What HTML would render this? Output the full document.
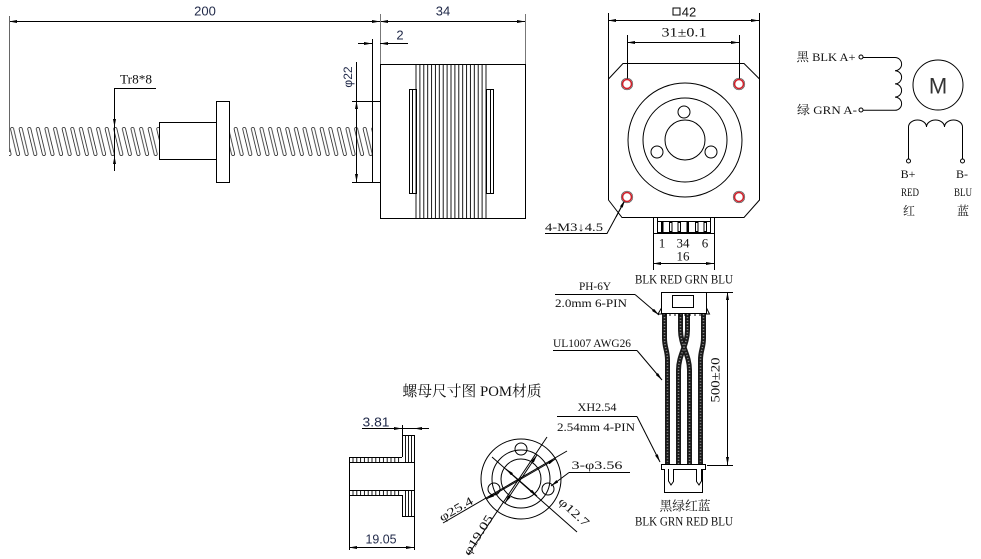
<!DOCTYPE html>
<html><head><meta charset="utf-8"><style>
html,body{margin:0;padding:0;background:#fff;}
svg{display:block;}
text{font-family:"Liberation Serif","Noto Serif CJK SC",serif;fill:#111;}
.s{font-family:"Liberation Sans","Noto Sans CJK SC",sans-serif;}
.n{fill:#1f2848;}
</style></head><body>
<svg width="981" height="559" viewBox="0 0 981 559" xmlns="http://www.w3.org/2000/svg">
<defs>
<marker id="a" viewBox="0 0 8 3" refX="8" refY="1.5" markerWidth="8" markerHeight="3" markerUnits="userSpaceOnUse" orient="auto-start-reverse"><path d="M0,0 L8,1.5 L0,3z" fill="#000"/></marker>
<pattern id="thr" patternUnits="userSpaceOnUse" x="9" y="127" width="8.6" height="29">
<g fill="none" stroke="#222" stroke-width="0.8">
<path d="M1.5,2 A1.6,1.6 0 0 1 4.7,2 L10.7,27 A1.6,1.6 0 0 1 7.5,27 Z"/>
<path d="M1.5,2 A1.6,1.6 0 0 1 4.7,2 L10.7,27 A1.6,1.6 0 0 1 7.5,27 Z" transform="translate(-8.6,0)"/>
<path d="M1.5,2 A1.6,1.6 0 0 1 4.7,2 L10.7,27 A1.6,1.6 0 0 1 7.5,27 Z" transform="translate(8.6,0)"/>
</g>
</pattern>
</defs>
<rect width="981" height="559" fill="#fff"/>

<!-- ===== Side view: screw + motor ===== -->
<rect x="9" y="127" width="150" height="29" fill="url(#thr)"/>
<rect x="229" y="127" width="143" height="29" fill="url(#thr)"/>
<g stroke="#000" stroke-width="1" fill="none">
<rect x="159.5" y="122.5" width="57" height="37" fill="#fff"/>
<rect x="216.5" y="101.5" width="13" height="81" fill="#fff"/>
<rect x="372.5" y="101.5" width="8" height="81" fill="#fff"/>
<rect x="380.5" y="64.5" width="145" height="154"/>
<path d="M416,64V218 M419.9,64V218 M423.8,64V218 M427.7,64V218 M431.6,64V218 M435.4,64V218 M439.3,64V218 M443.2,64V218 M447.1,64V218 M451,64V218 M454.9,64V218 M458.8,64V218 M462.7,64V218 M466.6,64V218 M470.4,64V218 M474.3,64V218 M478.2,64V218 M482.1,64V218 M486,64V218" stroke-width="0.9"/>
<rect x="409.5" y="89.5" width="7" height="104"/>
<line x1="412.5" y1="89" x2="412.5" y2="193"/>
<rect x="486.5" y="89.5" width="7" height="104"/>
<line x1="490.5" y1="89" x2="490.5" y2="193"/>

<!-- dims -->
<line x1="9" y1="21.5" x2="380" y2="21.5" marker-start="url(#a)" marker-end="url(#a)"/>
<line x1="380" y1="21.5" x2="525" y2="21.5" marker-start="url(#a)" marker-end="url(#a)"/>
<line x1="9.5" y1="16" x2="9.5" y2="152" stroke="#666"/>
<line x1="380.5" y1="14" x2="380.5" y2="64" stroke="#777"/>
<line x1="525.5" y1="14" x2="525.5" y2="64" stroke="#777"/>
<line x1="358" y1="43.5" x2="372" y2="43.5" marker-end="url(#a)"/>
<line x1="395" y1="43.5" x2="380" y2="43.5" marker-end="url(#a)"/>
<line x1="380" y1="43.5" x2="408" y2="43.5"/>
<line x1="372.5" y1="39" x2="372.5" y2="101"/>
<line x1="356.5" y1="62" x2="356.5" y2="182"/>
<line x1="356.5" y1="120" x2="356.5" y2="101" marker-end="url(#a)"/>
<line x1="356.5" y1="160" x2="356.5" y2="182" marker-end="url(#a)"/>
<line x1="352" y1="101.5" x2="372" y2="101.5"/>
<line x1="352" y1="182.5" x2="372" y2="182.5"/>
<polyline points="156,88.5 114.5,88.5 114.5,171"/>
<line x1="114.5" y1="110" x2="114.5" y2="127" marker-end="url(#a)"/>
<line x1="114.5" y1="171" x2="114.5" y2="156" marker-end="url(#a)"/>
</g>
<text class="s n" x="205" y="11" font-size="13" text-anchor="middle" dominant-baseline="central">200</text>
<text class="s n" x="443" y="11" font-size="13" text-anchor="middle" dominant-baseline="central">34</text>
<text class="s n" x="400" y="35" font-size="13" text-anchor="middle" dominant-baseline="central">2</text>
<text class="s n" x="0" y="0" font-size="12" text-anchor="middle" dominant-baseline="central" transform="translate(348,77) rotate(-90)">φ22</text>
<text x="136" y="79" font-size="13" text-anchor="middle" dominant-baseline="central" textLength="32" lengthAdjust="spacingAndGlyphs">Tr8*8</text>

<!-- ===== Front view ===== -->
<g stroke="#000" stroke-width="1" fill="none">
<polygon points="623,63.5 744,63.5 759.5,79 759.5,200 744,217.5 622,217.5 608.5,200 608.5,79"/>
<circle cx="685" cy="140" r="57"/>
<circle cx="685" cy="140" r="42"/>
<circle cx="685" cy="140" r="20"/>
<circle cx="684" cy="112" r="6"/>
<circle cx="657" cy="152" r="6"/>
<circle cx="711" cy="152" r="6"/>
<line x1="608" y1="20.5" x2="759" y2="20.5" marker-start="url(#a)" marker-end="url(#a)"/>
<line x1="608.5" y1="13" x2="608.5" y2="79"/>
<line x1="759.5" y1="13" x2="759.5" y2="79"/>
<line x1="627" y1="42.5" x2="739" y2="42.5" marker-start="url(#a)" marker-end="url(#a)"/>
<line x1="627.5" y1="35" x2="627.5" y2="80"/>
<line x1="739.5" y1="35" x2="739.5" y2="80"/>
<rect x="673" y="8" width="7" height="7"/>
<!-- connector -->
<rect x="653.5" y="217.5" width="61" height="16"/>
<rect x="657.5" y="217.5" width="53" height="15"/>
<line x1="657" y1="221.5" x2="710" y2="221.5"/>
<rect x="669.5" y="222.5" width="2.5" height="9"/>
<rect x="678" y="222.5" width="2.5" height="9"/>
<rect x="695.5" y="222.5" width="2.5" height="9"/>
<rect x="704" y="222.5" width="2.5" height="9"/>
<line x1="653" y1="263.5" x2="714" y2="263.5" marker-start="url(#a)" marker-end="url(#a)"/>
<line x1="653.5" y1="233" x2="653.5" y2="270"/>
<line x1="714.5" y1="233" x2="714.5" y2="270"/>
<polyline points="545,233.5 607,233.5 624,202"/>
</g>
<line x1="616" y1="217" x2="625" y2="200" stroke="#000" stroke-width="1" marker-end="url(#a)"/>
<rect x="661" y="222" width="2.5" height="10" fill="#000"/>
<rect x="686.5" y="222" width="2.5" height="10" fill="#000"/>
<g fill="#fff" stroke="#d0202a" stroke-width="1.6">
<circle cx="627" cy="84" r="4.5"/><circle cx="739" cy="84" r="4.5"/>
<circle cx="627" cy="197" r="4.5"/><circle cx="739" cy="197" r="4.5"/>
</g>
<g fill="none" stroke="#444" stroke-width="0.6">
<circle cx="627" cy="84" r="5.8"/><circle cx="739" cy="84" r="5.8"/>
<circle cx="627" cy="197" r="5.8"/><circle cx="739" cy="197" r="5.8"/>
</g>
<text class="s" x="689" y="12" font-size="13" text-anchor="middle" dominant-baseline="central">42</text>
<text x="684" y="32" font-size="13" text-anchor="middle" dominant-baseline="central" textLength="45" lengthAdjust="spacingAndGlyphs">31±0.1</text>
<text x="662" y="243" font-size="13" text-anchor="middle" dominant-baseline="central">1</text>
<text x="683" y="243" font-size="13" text-anchor="middle" dominant-baseline="central">34</text>
<text x="705" y="243" font-size="13" text-anchor="middle" dominant-baseline="central">6</text>
<text x="683" y="256" font-size="13" text-anchor="middle" dominant-baseline="central">16</text>
<text x="574" y="227" font-size="12" text-anchor="middle" dominant-baseline="central" textLength="58" lengthAdjust="spacingAndGlyphs">4-M3↓4.5</text>
<text x="684" y="279" font-size="13" text-anchor="middle" dominant-baseline="central" textLength="98" lengthAdjust="spacingAndGlyphs">BLK RED GRN BLU</text>

<!-- ===== Wiring schematic ===== -->
<g stroke="#000" stroke-width="1" fill="none">
<circle cx="861" cy="57" r="2"/>
<circle cx="861" cy="110" r="2"/>
<path d="M863,57.5 L895,57.5 a6.6,6.6 0 0 1 0,13.2 a6.6,6.6 0 0 1 0,13.2 a6.6,6.6 0 0 1 0,13.2 a6.6,6.6 0 0 1 0,13.2 L863,110.3"/>
<circle cx="938" cy="85" r="25"/>
<path d="M908.5,159 L908.5,127 a9,7 0 0 1 18,0 a9,7 0 0 1 18,0 a9,7 0 0 1 18,0 L962.5,159"/>
<circle cx="908.5" cy="161" r="2"/>
<circle cx="962.5" cy="161" r="2"/>
</g>
<text class="s" x="938" y="86" font-size="22" text-anchor="middle" dominant-baseline="central" fill="#333" style="fill:#333">M</text>
<text x="826" y="57" font-size="12" text-anchor="middle" dominant-baseline="central" textLength="59" lengthAdjust="spacingAndGlyphs">黑 BLK A+</text>
<text x="827" y="110" font-size="12" text-anchor="middle" dominant-baseline="central" textLength="60" lengthAdjust="spacingAndGlyphs">绿 GRN A-</text>
<text x="908" y="174" font-size="12" text-anchor="middle" dominant-baseline="central">B+</text>
<text x="910" y="192" font-size="12" text-anchor="middle" dominant-baseline="central" textLength="18" lengthAdjust="spacingAndGlyphs">RED</text>
<text x="909" y="211" font-size="12" text-anchor="middle" dominant-baseline="central">红</text>
<text x="962" y="174" font-size="12" text-anchor="middle" dominant-baseline="central">B-</text>
<text x="963" y="192" font-size="12" text-anchor="middle" dominant-baseline="central" textLength="18" lengthAdjust="spacingAndGlyphs">BLU</text>
<text x="963" y="211" font-size="12" text-anchor="middle" dominant-baseline="central">蓝</text>

<!-- ===== Cable ===== -->
<g fill="none" stroke-linecap="butt">
<g stroke="#1a1a1a" stroke-width="5">
<path d="M664.5,314 L664.5,338 C664.5,348 667.5,350 667.5,360 L667.5,464"/>
<path d="M680.5,314 L680.5,330 C680.5,345 689.5,355 689.5,370 L689.5,464"/>
<path d="M687.5,314 L687.5,330 C687.5,345 678.5,355 678.5,370 L678.5,464"/>
<path d="M703.5,314 L703.5,338 C703.5,348 700.5,350 700.5,360 L700.5,464"/>
</g>
<g stroke="#8a8a8a" stroke-width="1.5" stroke-dasharray="1.2 1.8">
<path d="M664.5,314 L664.5,338 C664.5,348 667.5,350 667.5,360 L667.5,464"/>
<path d="M680.5,314 L680.5,330 C680.5,345 689.5,355 689.5,370 L689.5,464"/>
<path d="M687.5,314 L687.5,330 C687.5,345 678.5,355 678.5,370 L678.5,464"/>
<path d="M703.5,314 L703.5,338 C703.5,348 700.5,350 700.5,360 L700.5,464"/>
</g>
</g>
<g stroke="#000" stroke-width="1" fill="#fff">
<rect x="661.5" y="292.5" width="45" height="21"/>
<rect x="672.5" y="295.5" width="21" height="12" fill="none"/>
<path d="M658,314 L661.5,308 L661.5,314 Z"/>
<path d="M709.5,314 L706.5,308 L706.5,314 Z"/>
<path d="M665,313 V316 M670,313 V316 M675,313 V316 M680,313 V316 M685,313 V316 M690,313 V316 M695,313 V316 M700,313 V316" fill="none"/>
<path d="M661.5,464.5 L705.5,464.5 L705.5,469.5 L702.5,469.5 L702.5,492.5 L664.5,492.5 L664.5,469.5 L661.5,469.5 Z"/>
<path d="M668.5,469 L668.5,481 L671,485 L673.5,481.5 L673.5,469.5 L696.5,469.5 L696.5,481.5 L699,485 L701.5,481 L701.5,469" fill="none"/>
</g>
<g stroke="#000" stroke-width="1" fill="none">
<line x1="727.5" y1="292" x2="727.5" y2="465" marker-start="url(#a)" marker-end="url(#a)"/>
<line x1="707" y1="292.5" x2="733" y2="292.5"/>
<line x1="707" y1="465.5" x2="733" y2="465.5"/>
<polyline points="555,294.5 635,294.5"/>
<line x1="635" y1="294.5" x2="659" y2="315" marker-end="url(#a)"/>
<polyline points="553,350.5 637,350.5"/>
<line x1="637" y1="350.5" x2="662" y2="380" marker-end="url(#a)"/>
<polyline points="557,416.5 637,416.5"/>
<line x1="637" y1="416.5" x2="660" y2="462" marker-end="url(#a)"/>
<polyline points="630,472.5 569,472.5"/>
<line x1="569" y1="472.5" x2="551" y2="486" marker-end="url(#a)"/>
</g>
<text x="0" y="0" font-size="13" text-anchor="middle" dominant-baseline="central" transform="translate(715,380) rotate(-90)" textLength="45" lengthAdjust="spacingAndGlyphs">500±20</text>
<text x="595" y="286" font-size="12" text-anchor="middle" dominant-baseline="central" textLength="32" lengthAdjust="spacingAndGlyphs">PH-6Y</text>
<text x="591" y="303" font-size="12" text-anchor="middle" dominant-baseline="central" textLength="72" lengthAdjust="spacingAndGlyphs">2.0mm 6-PIN</text>
<text x="592" y="343" font-size="12" text-anchor="middle" dominant-baseline="central" textLength="78" lengthAdjust="spacingAndGlyphs">UL1007 AWG26</text>
<text x="597" y="407" font-size="12" text-anchor="middle" dominant-baseline="central" textLength="39" lengthAdjust="spacingAndGlyphs">XH2.54</text>
<text x="596" y="427" font-size="12" text-anchor="middle" dominant-baseline="central" textLength="78" lengthAdjust="spacingAndGlyphs">2.54mm 4-PIN</text>
<text x="597" y="465" font-size="12" text-anchor="middle" dominant-baseline="central" textLength="51" lengthAdjust="spacingAndGlyphs">3-φ3.56</text>
<text x="685" y="506" font-size="13" text-anchor="middle" dominant-baseline="central" textLength="51" lengthAdjust="spacingAndGlyphs">黑绿红蓝</text>
<text x="684" y="521" font-size="13" text-anchor="middle" dominant-baseline="central" textLength="98" lengthAdjust="spacingAndGlyphs">BLK GRN RED BLU</text>

<!-- ===== Nut drawings ===== -->
<text x="472" y="392" font-size="15" text-anchor="middle" dominant-baseline="central" textLength="139" lengthAdjust="spacingAndGlyphs">螺母尺寸图 POM材质</text>
<g stroke="#000" stroke-width="1" fill="none">
<!-- side view -->
<line x1="349.5" y1="457" x2="349.5" y2="550"/>
<line x1="414.5" y1="435" x2="414.5" y2="550"/>
<line x1="402.5" y1="435" x2="402.5" y2="457"/>
<line x1="402" y1="435.5" x2="414" y2="435.5"/>
<line x1="349" y1="457.5" x2="402" y2="457.5"/>
<line x1="349" y1="462.5" x2="414" y2="462.5"/>
<line x1="349" y1="490.5" x2="414" y2="490.5"/>
<line x1="349" y1="495.5" x2="402" y2="495.5"/>
<line x1="402.5" y1="495" x2="402.5" y2="516"/>
<line x1="402" y1="516.5" x2="414" y2="516.5"/>
<path d="M353,458V462 M356.8,458V462 M360.6,458V462 M364.4,458V462 M368.2,458V462 M372,458V462 M375.8,458V462 M379.6,458V462 M383.4,458V462 M387.2,458V462 M391,458V462 M394.8,458V462 M398.6,458V462 M353,491V495 M356.8,491V495 M360.6,491V495 M364.4,491V495 M368.2,491V495 M372,491V495 M375.8,491V495 M379.6,491V495 M383.4,491V495 M387.2,491V495 M391,491V495 M394.8,491V495 M398.6,491V495" stroke-width="0.9"/>
<path d="M405.5,436V462 M408.5,436V462 M411.5,436V462 M405.5,491V516 M408.5,491V516 M411.5,491V516" stroke-width="0.9"/>
<line x1="362" y1="428.5" x2="402" y2="428.5" marker-end="url(#a)"/>
<line x1="429" y1="428.5" x2="414" y2="428.5" marker-end="url(#a)"/>
<line x1="402" y1="428.5" x2="414" y2="428.5"/>
<line x1="402.5" y1="425" x2="402.5" y2="435"/>
<line x1="349" y1="547.5" x2="414" y2="547.5" marker-start="url(#a)" marker-end="url(#a)"/>
<!-- front view -->
<circle cx="521" cy="479" r="40"/>
<circle cx="521" cy="479" r="29"/>
<circle cx="521" cy="479" r="20"/>
<circle cx="521" cy="449" r="6"/>
<circle cx="494" cy="489" r="6"/>
<circle cx="548" cy="489" r="6"/>
<line x1="567" y1="451" x2="443" y2="523"/>
<line x1="521" y1="479" x2="555.5" y2="459" marker-end="url(#a)"/>
<line x1="521" y1="479" x2="486.5" y2="499" marker-end="url(#a)"/>
<line x1="547" y1="437" x2="468" y2="555"/>
<line x1="521" y1="479" x2="537" y2="455" marker-end="url(#a)"/>
<line x1="521" y1="479" x2="505" y2="503" marker-end="url(#a)"/>
<line x1="492" y1="457" x2="577" y2="532"/>
<line x1="521" y1="482" x2="506" y2="469" marker-end="url(#a)"/>
<line x1="521" y1="482" x2="537" y2="496" marker-end="url(#a)"/>
</g>
<text class="s n" x="376" y="422" font-size="13" text-anchor="middle" dominant-baseline="central" textLength="27" lengthAdjust="spacingAndGlyphs">3.81</text>
<text class="s n" x="381" y="539" font-size="13" text-anchor="middle" dominant-baseline="central" textLength="31" lengthAdjust="spacingAndGlyphs">19.05</text>
<text x="0" y="0" font-size="12" text-anchor="middle" dominant-baseline="central" transform="translate(456,509) rotate(-30)" textLength="37" lengthAdjust="spacingAndGlyphs">φ25.4</text>
<text x="0" y="0" font-size="12" text-anchor="middle" dominant-baseline="central" transform="translate(478,535) rotate(-58)" textLength="45" lengthAdjust="spacingAndGlyphs">φ19.05</text>
<text x="0" y="0" font-size="12" text-anchor="middle" dominant-baseline="central" transform="translate(574,512) rotate(42)" textLength="37" lengthAdjust="spacingAndGlyphs">φ12.7</text>
</svg>
</body></html>
